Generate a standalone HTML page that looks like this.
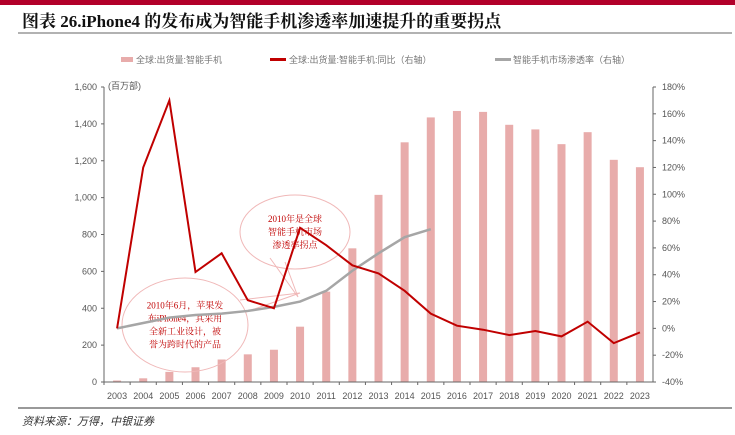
<!DOCTYPE html>
<html><head><meta charset="utf-8">
<style>
body{margin:0;background:#fff;}
svg{display:block;font-family:"Liberation Sans","Noto Sans CJK SC",sans-serif;}
</style></head>
<body>
<svg width="735" height="435" viewBox="0 0 735 435">
<rect x="0" y="0" width="735" height="5" fill="#b2002a"/>
<text x="22" y="27" font-size="17" font-weight="bold" fill="#111" font-family="Liberation Serif,'Noto Serif CJK SC',serif">图表 26.iPhone4 的发布成为智能手机渗透率加速提升的重要拐点</text>
<line x1="18" y1="33" x2="732" y2="33" stroke="#666" stroke-width="1"/>
<g font-size="9" fill="#777">
 <rect x="121" y="57" width="12" height="5" fill="#e8acab"/>
 <text x="136" y="63">全球:出货量:智能手机</text>
 <rect x="270" y="58" width="16" height="3" fill="#c00000"/>
 <text x="289" y="63">全球:出货量:智能手机:同比（右轴）</text>
 <rect x="495" y="58" width="16" height="3" fill="#a6a6a6"/>
 <text x="513" y="63">智能手机市场渗透率（右轴）</text>
</g>
<text x="108" y="89" font-size="9" fill="#555">(百万部)</text>
<g id="plot"></g>
<line x1="18" y1="408" x2="732" y2="408" stroke="#333" stroke-width="1"/>
<text x="22" y="425" font-size="11" font-style="italic" fill="#333">资料来源：万得，中银证券</text>
</svg>
<script>
const years=["2003","2004","2005","2006","2007","2008","2009","2010","2011","2012","2013","2014","2015","2016","2017","2018","2019","2020","2021","2022","2023"];
const shipments=[8,20,55,80,122,150,175,300,490,725,1015,1300,1435,1470,1465,1395,1370,1290,1355,1205,1165];
const yoy=[0,120,170,42,56,21,15,75,62,47,41,28,11,2,-1,-5,-2,-6,5,-11,-3];
const penetration=[0,4,8,10,11,13,16,20,28,43,56,68,74];
const leftTicks=[0,200,400,600,800,1000,1200,1400,1600];
const rightTicks=[-40,-20,0,20,40,60,80,100,120,140,160,180];

const NS="http://www.w3.org/2000/svg";
const g=document.getElementById('plot');
const X0=104,X1=653,Y0=382,Y1=87;
const bw=(X1-X0)/years.length;
const xc=i=>X0+bw*(i+0.5);
const yl=v=>Y0-(v/1600)*(Y0-Y1);
const yr=v=>Y0-((v+40)/220)*(Y0-Y1);
function mk(t,a){const e=document.createElementNS(NS,t);for(const k in a)e.setAttribute(k,a[k]);g.appendChild(e);return e;}

// bars
shipments.forEach((v,i)=>{
 const r=mk('rect',{x:xc(i)-4,y:yl(v),width:8,height:Y0-yl(v),fill:'#e8acab'});
 
 
});
// callouts
function callout(cx,cy,rx,ry,tip,lines,name){
 const e=mk('ellipse',{cx:cx,cy:cy,rx:rx,ry:ry,fill:'none',stroke:'#f0b8b8','stroke-width':1});
 
 
 const p=mk('polyline',{points:tip,fill:'none',stroke:'#f0b8b8','stroke-width':1});
 
 
 lines.forEach((s,k)=>{
  const t=mk('text',{x:cx,y:cy-(lines.length-1)*6.5+k*13+3,'font-size':9,fill:'#c00000','text-anchor':'middle','font-family':"Liberation Serif,'Noto Serif CJK SC',serif"});
  t.textContent=s;
  
  
 });
}
callout(295,232,55,37,"270,258 298,297 285,262","2010年是全球|智能手机市场|渗透率拐点".split('|'),'callout-2010');
callout(185,325,63,47,"240,300 300,293 246,312","2010年6月，苹果发|布iPhone4，其采用|全新工业设计，被|誉为跨时代的产品".split('|'),'callout-iphone4');
// lines
const pen=mk('polyline',{points:penetration.map((v,i)=>xc(i)+','+yr(v)).join(' '),fill:'none',stroke:'#a6a6a6','stroke-width':2.5});


const yl2=mk('polyline',{points:yoy.map((v,i)=>xc(i)+','+yr(v)).join(' '),fill:'none',stroke:'#c00000','stroke-width':2});


// axes
const ax=mk('line',{x1:X0,y1:Y1,x2:X0,y2:Y0,stroke:'#666'});


const ax2=mk('line',{x1:X1,y1:Y1,x2:X1,y2:Y0,stroke:'#666'});


const ax3=mk('line',{x1:X0,y1:Y0,x2:X1,y2:Y0,stroke:'#666'});


leftTicks.forEach(v=>{
 mk('line',{x1:X0-3,y1:yl(v),x2:X0,y2:yl(v),stroke:'#666'});
 const t=mk('text',{x:X0-7,y:yl(v)+3,'font-size':9,fill:'#555','text-anchor':'end'});
 t.textContent=v.toLocaleString('en-US');
 
 
});
rightTicks.forEach(v=>{
 mk('line',{x1:X1,y1:yr(v),x2:X1+3,y2:yr(v),stroke:'#666'});
 const t=mk('text',{x:X1+9,y:yr(v)+3,'font-size':9,fill:'#555'});
 t.textContent=v+'%';
 
 
});
years.forEach((y,i)=>{
 mk('line',{x1:X0+bw*i,y1:Y0,x2:X0+bw*i,y2:Y0+3,stroke:'#666'});
 const t=mk('text',{x:xc(i),y:399,'font-size':9,fill:'#555','text-anchor':'middle'});
 t.textContent=y;
 
 
});
</script>
</body></html>
